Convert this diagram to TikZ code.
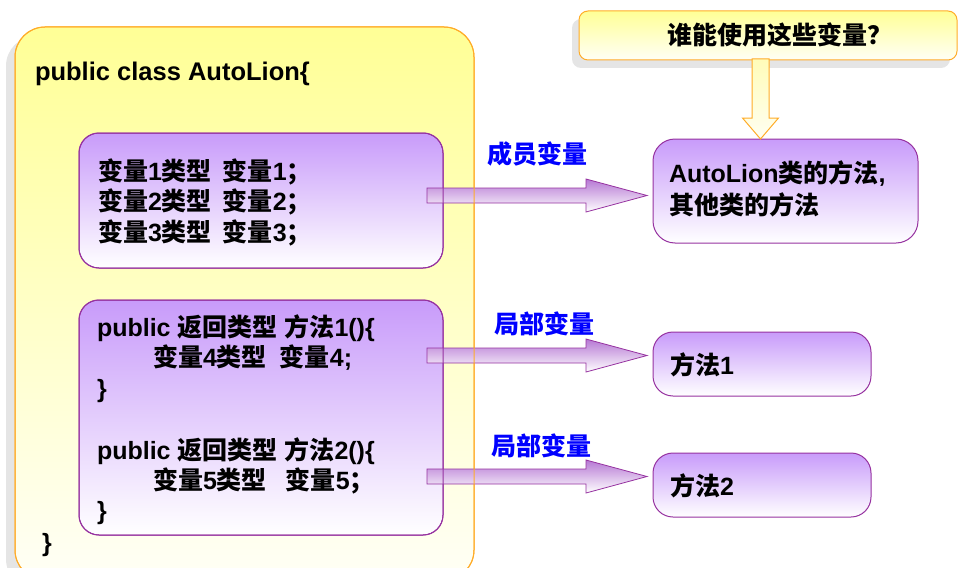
\documentclass[tikz,border=0pt]{standalone}
\usepackage{fontspec}
\setmainfont{Liberation Sans}
\newfontfamily\cjkf{Noto Sans CJK SC}
\usetikzlibrary{calc,shadows}
\newcommand\zh[1]{{\cjkf #1}}
\definecolor{ybord}{RGB}{255,172,40}
\definecolor{ytop}{RGB}{255,255,150}
\definecolor{ybot}{RGB}{255,255,246}
\definecolor{pbord}{RGB}{150,50,160}
\definecolor{ptop}{RGB}{200,155,250}
\definecolor{atop}{RGB}{182,120,212}
\definecolor{lblue}{RGB}{0,0,255}
\definecolor{vtop}{RGB}{255,252,185}
\definecolor{vbot}{RGB}{255,255,242}
% horizontal block arrow: [style]{start}{tip}{half shaft}{half head}{head length}
\newcommand\harrow[6][]{\path[#1] let \p1=(#2), \p2=(#3) in
  (\x1,\y1+#4) -- (\x2-#6,\y1+#4) -- (\x2-#6,\y1+#5) -- (\x2,\y1) --
  (\x2-#6,\y1-#5) -- (\x2-#6,\y1-#4) -- (\x1,\y1-#4) -- cycle;}
% vertical (downward) block arrow
\newcommand\varrow[6][]{\path[#1] let \p1=(#2), \p2=(#3) in
  (\x1-#4,\y1) -- (\x1-#4,\y2+#6) -- (\x1-#5,\y2+#6) -- (\x1,\y2) --
  (\x1+#5,\y2+#6) -- (\x1+#4,\y2+#6) -- (\x1+#4,\y1) -- cycle;}
\begin{document}
\begin{tikzpicture}[x=1pt,y=-1pt,
  every node/.style={inner sep=0pt, outer sep=0pt, font=\fontsize{25}{30}\selectfont\bfseries},
  txt/.style={anchor=base west},
  lbl/.style={txt, text=lblue},
  ybox/.style={draw=ybord, line width=1pt, top color=ytop, bottom color=ybot},
  pbox/.style={draw=pbord, line width=1pt, top color=ptop, bottom color=white, rounded corners=20pt},
  pborder/.style={draw=pbord, line width=1pt, rounded corners=20pt},
  parrow/.style={draw=pbord, line width=0.8pt, top color=atop, bottom color=white},
  yarrow/.style={draw=ybord, line width=1pt, top color=vtop, bottom color=vbot},
  shad/.style={drop shadow={shadow xshift=-9pt, shadow yshift=-9pt, fill=black!10, opacity=1}}
]
\useasboundingbox (0,0) rectangle (973,567);
\clip (0,0) rectangle (973,567);

% class box
\node[ybox, shad, rounded corners=30pt, minimum width=459pt, minimum height=553pt] (cls) at (244.5,303.5) {};
\node[txt, font=\fontsize{25.5}{30}\selectfont\bfseries] (t0) at (35,80.5) {public class AutoLion\{};

% member variable box
\node[pbox, minimum width=364pt, minimum height=135pt] (v1) at (261,200.5) {};
\node[txt] (t1) at (98,180) {\zh{变量}1\zh{类型}\hspace{11pt}\zh{变量}1\zh{；}};
\node[txt] (t2) at (98,210.5) {\zh{变量}2\zh{类型}\hspace{11pt}\zh{变量}2\zh{；}};
\node[txt] (t3) at (98,241) {\zh{变量}3\zh{类型}\hspace{11pt}\zh{变量}3\zh{；}};

% methods box
\node[pbox, minimum width=364pt, minimum height=235pt] (v2) at (261,417.5) {};
\node[txt] (t4) at (97,336) {public \zh{返回类型} \zh{方法}1()\{};
\node[txt] (t5) at (153,366) {\zh{变量}4\zh{类型}\hspace{13pt}\zh{变量}4;};
\node[txt] (t6) at (97,397) {\}};
\node[txt] (t7) at (97,459) {public \zh{返回类型} \zh{方法}2()\{};
\node[txt] (t8) at (153,489) {\zh{变量}5\zh{类型}\hspace{19pt}\zh{变量}5\zh{；}};
\node[txt] (t9) at (97,519) {\}};
\node[txt] (t10) at (42,551) {\}};

% question box
\node[ybox, drop shadow={shadow xshift=-7pt, shadow yshift=-8pt, fill=black!10, opacity=1}, rounded corners=9pt, minimum width=378pt, minimum height=49pt] (q) at (768,35.5) {};
\node[txt] (qt) at (667,45) {\zh{谁能使用这些变量？}};

% right boxes
\node[pbox, rounded corners=22pt, minimum width=265pt, minimum height=104pt] (ra) at (785.5,191) {};
\node[txt] (ra1) at (669,182) {AutoLion\zh{类的方法},};
\node[txt] (ra2) at (669,214) {\zh{其他类的方法}};
\node[pbox, minimum width=218pt, minimum height=64pt] (m1) at (762,364) {};
\node[txt] (m1t) at (670,374) {\zh{方法}1};
\node[pbox, minimum width=218pt, minimum height=64pt] (m2) at (762,485) {};
\node[txt] (m2t) at (670,495) {\zh{方法}2};

% labels
\node[lbl] (lb1) at (487,163) {\zh{成员变量}};
\node[lbl] (lb2) at (494,333) {\zh{局部变量}};
\node[lbl] (lb3) at (491,455) {\zh{局部变量}};

% arrows
\coordinate (a1s) at ([shift={(-16pt,5pt)}]v1.east);
\coordinate (a1e) at ([shift={(-6pt,-4.5pt)}]ra.west);
\harrow[parrow]{a1s}{a1s -| a1e}{7.5pt}{16.5pt}{61pt}
\coordinate (a2s) at (427,355.5);
\coordinate (a2e) at ([xshift=-6pt]m1.west);
\harrow[parrow]{a2s}{a2s -| a2e}{7.5pt}{16.5pt}{61pt}
\coordinate (a3s) at (427,476.5);
\coordinate (a3e) at ([xshift=-6pt]m2.west);
\harrow[parrow]{a3s}{a3s -| a3e}{7.5pt}{16.5pt}{61pt}
\coordinate (vs) at (760.5,59);
\coordinate (ve) at (vs |- ra.north);
\varrow[yarrow]{vs}{ve}{8.5pt}{18pt}{21pt}

% borders showing through the arrows
\draw[pborder] (v1.south west) rectangle (v1.north east);
\draw[pborder] (v2.south west) rectangle (v2.north east);
\draw[draw=ybord, line width=1pt, rounded corners=30pt] (cls.south west) rectangle (cls.north east);
\end{tikzpicture}
\end{document}
